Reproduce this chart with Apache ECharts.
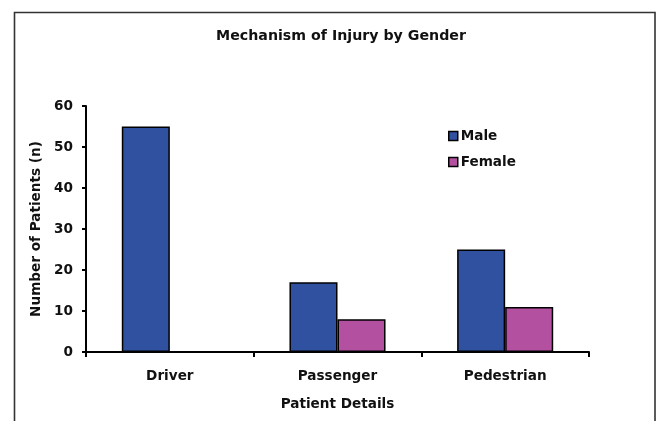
<!DOCTYPE html>
<html>
<head>
<meta charset="utf-8">
<script src="https://cdn.jsdelivr.net/npm/echarts@6/dist/echarts.min.js"></script>
<style>
html,body{margin:0;padding:0;background:#fff;}
#chart{width:657px;height:421px;}
</style>
</head>
<body>
<div id="chart"></div>
<script>
var categories = ['Driver', 'Passenger', 'Pedestrian'];
var maleValues = [55, 17, 25];
var femaleValues = [0, 8, 11];
var yTicks = [0, 10, 20, 30, 40, 50, 60];

var FONT = '"DejaVu Sans", "Liberation Sans", Arial, sans-serif';
var FS = 13.6;
var chart = echarts.init(document.getElementById('chart'), null, {renderer: 'canvas'});
chart.setOption({
  backgroundColor: '#fff',
  animation: false,
  graphic: [{
    type: 'rect',
    shape: {x: 14.5, y: 12.5, width: 640.5, height: 430},
    style: {fill: 'none', stroke: '#333', lineWidth: 1.6},
    silent: true, z: 0
  }],
  title: {
    text: 'Mechanism of Injury by Gender',
    left: 336, top: 24, textAlign: 'center',
    textStyle: {fontFamily: FONT, fontWeight: 'bold', fontSize: 14.2, color: '#111'}
  },
  legend: {
    orient: 'vertical',
    left: 443, top: 124,
    itemWidth: 9, itemHeight: 9, itemGap: 12,
    icon: 'rect',
    data: ['Male', 'Female'],
    itemStyle: {borderColor: '#000', borderWidth: 1.5},
    textStyle: {fontFamily: FONT, fontWeight: 'bold', fontSize: FS, color: '#111', padding: [0, 0, 0, -2]},
    selectedMode: false
  },
  grid: {left: 86, right: 68, top: 106, bottom: 69, containLabel: false},
  xAxis: {
    type: 'category',
    data: categories,
    name: 'Patient Details',
    nameLocation: 'middle',
    nameGap: 45,
    nameTextStyle: {fontFamily: FONT, fontWeight: 'bold', fontSize: FS, color: '#111'},
    axisLine: {lineStyle: {color: '#000', width: 2}},
    axisTick: {show: true, inside: false, length: 5, alignWithLabel: false, lineStyle: {color: '#000', width: 2}},
    axisLabel: {fontFamily: FONT, fontWeight: 'bold', fontSize: FS, color: '#111', margin: 17}
  },
  yAxis: {
    type: 'value',
    min: 0, max: 60, interval: 10,
    name: 'Number of Patients (n)',
    nameLocation: 'middle',
    nameGap: 33,
    nameRotate: 90,
    nameTextStyle: {fontFamily: FONT, fontWeight: 'bold', fontSize: FS, color: '#111'},
    axisLine: {show: true, lineStyle: {color: '#000', width: 2}},
    axisTick: {show: true, inside: false, length: 4, lineStyle: {color: '#000', width: 2}},
    splitLine: {show: false},
    axisLabel: {fontFamily: FONT, fontWeight: 'bold', fontSize: FS, color: '#111', margin: 13,
      formatter: function (v) { return yTicks.indexOf(v) >= 0 ? String(v) : ''; }}
  },
  series: [{
    name: 'Male', type: 'bar', data: maleValues,
    barGap: '0%', barCategoryGap: '42.7%',
    itemStyle: {color: '#3050A0', borderColor: '#000', borderWidth: 1.5}
  }, {
    name: 'Female', type: 'bar', data: femaleValues,
    barGap: '0%', barCategoryGap: '42.7%',
    itemStyle: {color: '#B450A0', borderColor: '#000', borderWidth: 1.5}
  }]
});
</script>
</body>
</html>
